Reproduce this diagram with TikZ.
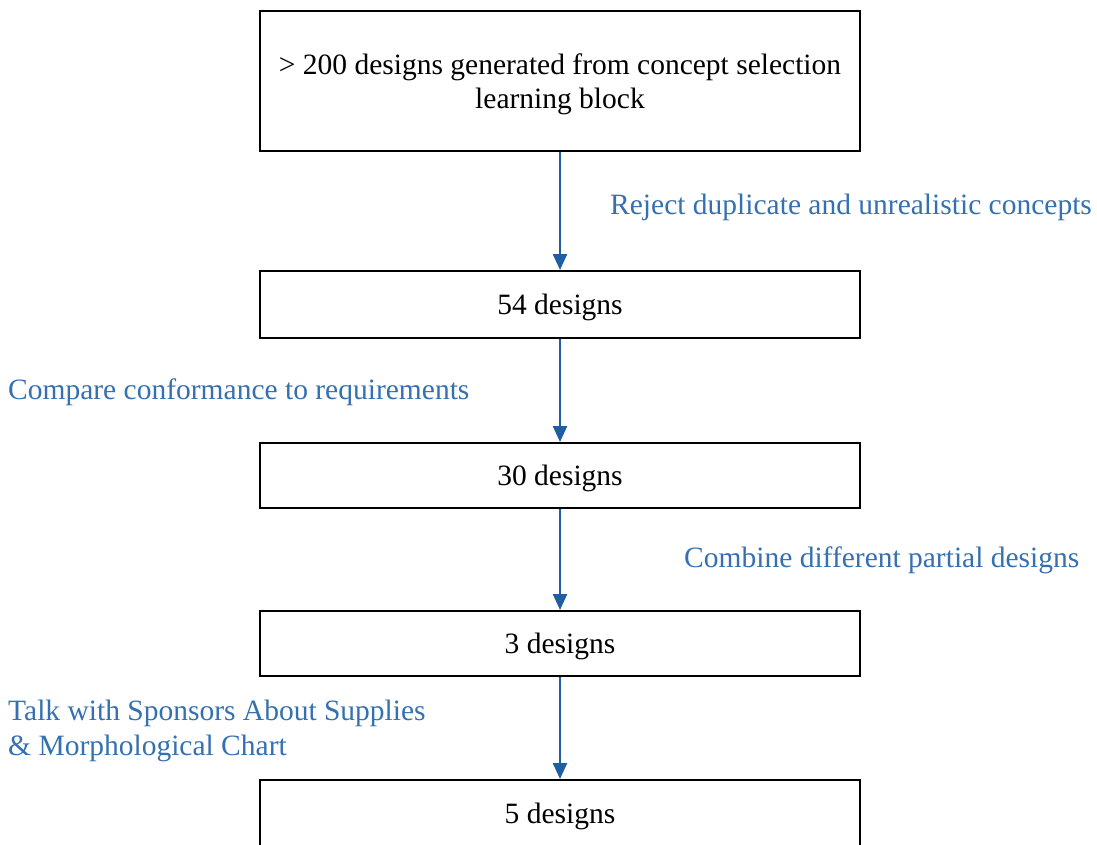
\documentclass[tikz,border=0pt]{standalone}
\usepackage{fontspec}
\setmainfont{Liberation Serif}
\usetikzlibrary{arrows.meta}
\definecolor{flowblue}{HTML}{1F5DA4}
\definecolor{labelblue}{HTML}{3570B0}
\tikzset{
  stagebox/.style={draw=black, line width=2pt, minimum width=600pt, inner sep=0pt,
    align=center, text depth=0pt, font=\fontsize{29.5}{34}\selectfont},
  flow/.style={draw=flowblue, line width=2.4pt,
    -{Triangle[length=16pt,width=14pt]}},
  steplabel/.style={text=labelblue, inner sep=0pt, align=left,
    font=\fontsize{29.5}{35}\selectfont}
}
\begin{document}
\begin{tikzpicture}[x=1pt,y=-1pt]
  \clip (0,0) rectangle (1097,844);
  \fill[white] (0,0) rectangle (1097,844);

  % stages of the concept down-selection
  \node[stagebox, minimum height=140pt] (b1) at (560,81)
    {> 200 designs generated from concept selection\\learning block};
  \node[stagebox, minimum height=67pt] (b2) at (560,304.5) {54 designs};
  \node[stagebox, minimum height=65pt] (b3) at (560,475.5) {30 designs};
  \node[stagebox, minimum height=65pt] (b4) at (560,643.5) {3 designs};
  \node[stagebox, minimum height=66pt] (b5) at (560,813) {5 designs};

  % transitions
  \draw[flow] (b1.south) -- (b2.north);
  \draw[flow] (b2.south) -- (b3.north);
  \draw[flow] (b3.south) -- (b4.north);
  \draw[flow] (b4.south) -- (b5.north);

  % transition labels
  \node[steplabel, anchor=west] (l1) at (610,207.5) {Reject duplicate and unrealistic concepts};
  \node[steplabel, anchor=west] (l2) at (8,392.5) {Compare conformance to requirements};
  \node[steplabel, anchor=west] (l3) at (684,560.5) {Combine different partial designs};
  \node[steplabel, anchor=west] (l4) at (8,730.5) {Talk with Sponsors About Supplies\\\& Morphological Chart};
\end{tikzpicture}
\end{document}
